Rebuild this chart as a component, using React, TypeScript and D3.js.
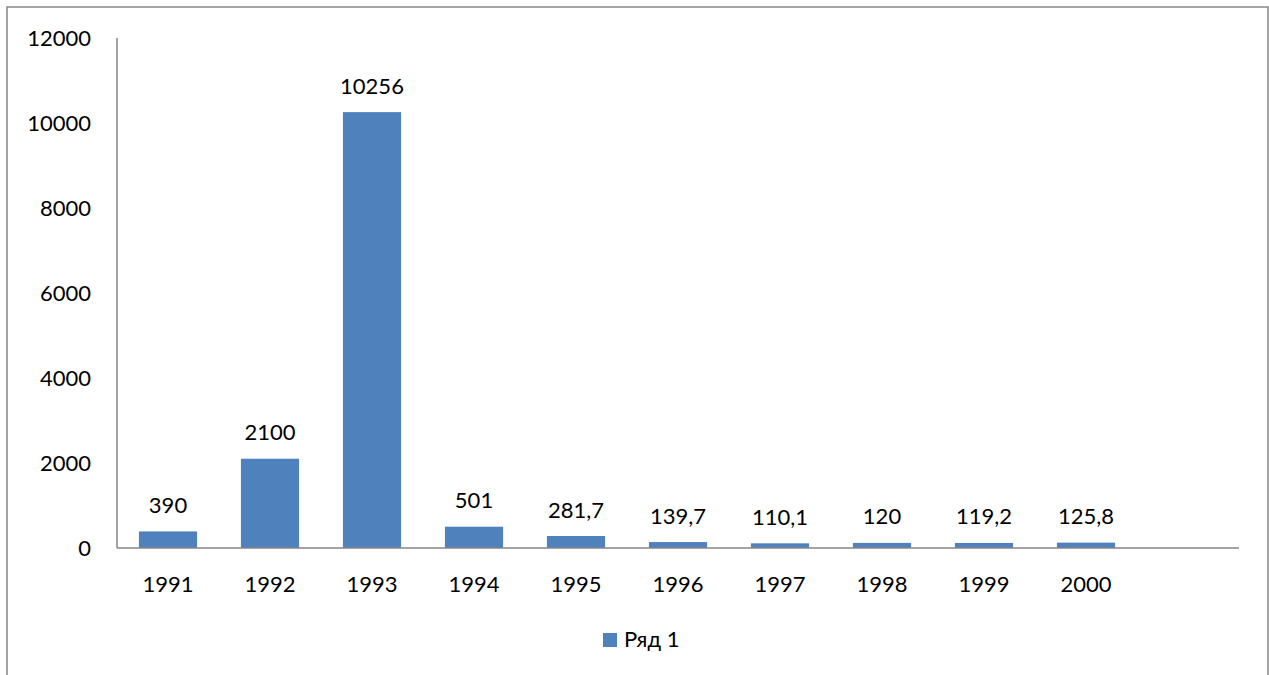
import React from 'react';
import * as d3 from 'd3';

const years = ['1991', '1992', '1993', '1994', '1995', '1996', '1997', '1998', '1999', '2000'];
const values = [390, 2100, 10256, 501, 281.7, 139.7, 110.1, 120, 119.2, 125.8];
const yTicks = [0, 2000, 4000, 6000, 8000, 10000, 12000];
const seriesName = 'Ряд 1';

const W = 1269, H = 675;
const left = 117, right = 1239, top = 38, bottom = 548;
const font = 'Lato, "Open Sans", sans-serif';
const fs = 22;

const fmt = (v: number) => String(v).replace('.', ',');

export default function App() {
  // the axis carries one empty slot after 2000
  const slots = [...years, ''];
  const x = d3.scaleBand().domain(slots).range([left, right]).paddingInner(0.43).paddingOuter(0.215);
  const y = d3.scaleLinear().domain([0, 12000]).range([bottom, top]);

  return (
    <svg width={W} height={H} style={{ position: 'fixed', left: 0, top: 0, background: '#fff' }}>
      <rect x={7} y={7} width={1261} height={675} fill="#fff" stroke="#868686" strokeWidth={1.5} />

      {yTicks.map(t => (
        <text key={t} x={91} y={y(t)} dy="0.36em" textAnchor="end" fontSize={fs} fontFamily={font} fill="#000">
          {t}
        </text>
      ))}

      {years.map((yr, i) => (
        <g key={yr}>
          <rect x={x(yr)} y={y(values[i])} width={x.bandwidth()} height={bottom - y(values[i])} fill="#4F81BD" />
          <text x={x(yr)! + x.bandwidth() / 2} y={y(values[i]) - 18.5} textAnchor="middle" fontSize={fs} fontFamily={font} fill="#000">
            {fmt(values[i])}
          </text>
          <text x={x(yr)! + x.bandwidth() / 2} y={592} textAnchor="middle" fontSize={fs} fontFamily={font} fill="#000">
            {yr}
          </text>
        </g>
      ))}

      <line x1={left} x2={left} y1={top} y2={bottom} stroke="#868686" strokeWidth={1.5} />
      <line x1={left} x2={right} y1={bottom} y2={bottom} stroke="#868686" strokeWidth={1.5} />

      <rect x={603} y={633} width={14} height={14} fill="#4F81BD" />
      <text x={624} y={647} fontSize={fs} fontFamily={font} fill="#000">{seriesName}</text>
    </svg>
  );
}
